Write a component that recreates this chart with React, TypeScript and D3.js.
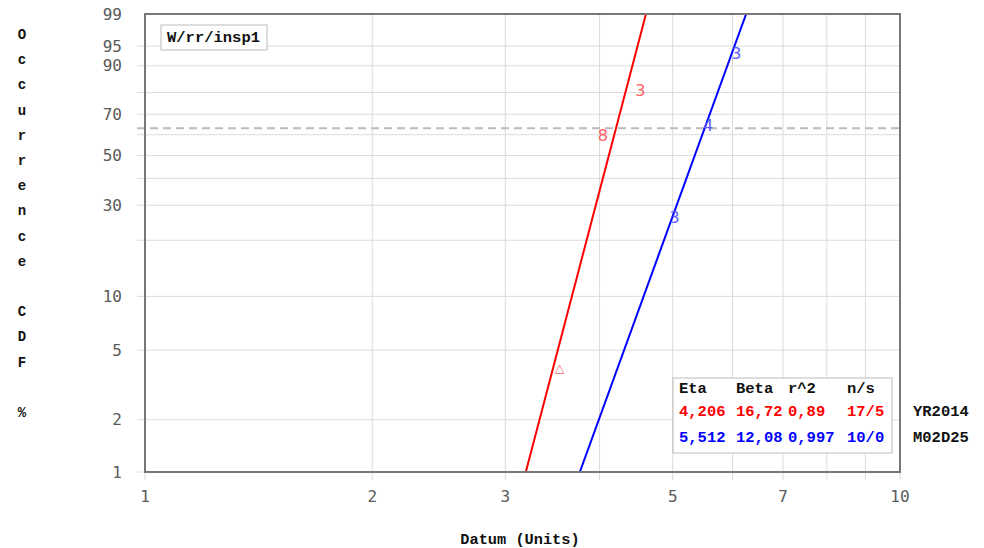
import React from "react";
import * as d3 from "d3";

// axis ticks
const xTicks = [1, 2, 3, 5, 7, 10];
const xGrid = [2, 3, 4, 5, 6, 7, 8, 9];
const yTicks = [1, 2, 5, 10, 30, 50, 70, 90, 95, 99];
const yGrid = [2, 5, 10, 20, 30, 40, 50, 60, 70, 80, 90, 95];

// fitted parameters per set
const seriesNames = ["YR2014", "M02D25"];
const seriesColors = ["#ff0000", "#0000ff"];
const markColors = ["#ff6060", "#6060ff"];
const etas = [4.206, 5.512];
const betas = [16.72, 12.08];
const r2Labels = ["0,89", "0,997"];
const nsLabels = ["17/5", "10/0"];
const etaLabels = ["4,206", "5,512"];
const betaLabels = ["16,72", "12,08"];

// plotted points (x value, occurrence %, glyph)
const redX = [3.54, 4.04, 4.53];
const redF = [3.96, 59.8, 81.0];
const redGlyph = ["△", "8", "3"];
const blueX = [5.03, 5.57, 6.07];
const blueF = [26.0, 64.3, 93.3];
const blueGlyph = ["3", "4", "3"];

const W = 984;
const H = 548;
const left = 145, right = 900, top = 14, bottom = 472;

const wb = (p: number) => Math.log(-Math.log(1 - p / 100));

export default function App() {
  const x = d3.scaleLog().domain([1, 10]).range([left, right]);
  const y = d3.scaleLinear().domain([wb(1), wb(99)]).range([bottom, top]);

  const fitLine = (eta: number, beta: number) => {
    const pts = [1, 99].map((p) => [x(eta * Math.pow(-Math.log(1 - p / 100), 1 / beta)), y(wb(p))] as [number, number]);
    return d3.line()(pts) || "";
  };

  const points = [
    redX.map((v, i) => ({ x: v, f: redF[i], g: redGlyph[i] })),
    blueX.map((v, i) => ({ x: v, f: blueF[i], g: blueGlyph[i] })),
  ];

  const mono = "'Liberation Mono', 'DejaVu Sans Mono', monospace";
  const tickFont = "'DejaVu Sans Mono', monospace";
  const yLabel = "Occurrence CDF %".split("");
  const cols = [679, 736, 788, 847];

  return (
    <svg width={W} height={H} style={{ position: "absolute", left: 0, top: 0, background: "#fff" }}>
      <defs>
        <clipPath id="plot">
          <rect x={left} y={top} width={right - left} height={bottom - top} />
        </clipPath>
      </defs>

      {/* grid */}
      {yGrid.map((p) => (
        <line key={"yg" + p} x1={left - 8} x2={right} y1={y(wb(p))} y2={y(wb(p))} stroke="#dcdcdc" strokeWidth={1} />
      ))}
      {xGrid.map((v) => (
        <line key={"xg" + v} x1={x(v)} x2={x(v)} y1={top} y2={bottom + 8} stroke="#dcdcdc" strokeWidth={1} />
      ))}
      {[1].map((p) => (
        <line key="y1" x1={left - 8} x2={left} y1={y(wb(p))} y2={y(wb(p))} stroke="#dcdcdc" />
      ))}
      {[1, 10].map((v) => (
        <line key={"xt" + v} x1={x(v)} x2={x(v)} y1={bottom} y2={bottom + 8} stroke="#dcdcdc" />
      ))}
      <line x1={left - 8} x2={right} y1={y(0)} y2={y(0)} stroke="#bbbbbb" strokeWidth={2} strokeDasharray="8,5" />

      {/* tick labels */}
      {yTicks.map((p) => (
        <text key={"yl" + p} x={122} y={y(wb(p))} textAnchor="end" dominantBaseline="central" fontFamily={tickFont} fontSize={16} fill="#5a5a5a">
          {p}
        </text>
      ))}
      {xTicks.map((v) => (
        <text key={"xl" + v} x={x(v)} y={496} textAnchor="middle" dominantBaseline="central" fontFamily={tickFont} fontSize={16} fill="#5a5a5a">
          {v}
        </text>
      ))}

      {/* fit lines */}
      <g clipPath="url(#plot)">
        {etas.map((e, i) => (
          <path key={"fl" + i} d={fitLine(e, betas[i])} stroke={seriesColors[i]} strokeWidth={2} fill="none" />
        ))}
      </g>

      {/* point glyphs */}
      {points.map((ps, si) =>
        ps.map((p, i) => (
          <text key={si + "-" + i} x={x(p.x)} y={y(wb(p.f))} textAnchor="middle" dominantBaseline="central" fontFamily="'DejaVu Sans', sans-serif" fontSize={p.g === "△" ? 12 : 16} fill={markColors[si]}>
            {p.g}
          </text>
        ))
      )}

      {/* frame */}
      <rect x={left} y={top} width={right - left} height={bottom - top} fill="none" stroke="#777" strokeWidth={2} />

      {/* title box */}
      <rect x={161} y={25} width={106} height={25} fill="#fff" stroke="#bbb" />
      <text x={167} y={38} dominantBaseline="central" fontFamily={mono} fontWeight="bold" fontSize={15.5} fill="#111">
        W/rr/insp1
      </text>

      {/* parameter box */}
      <rect x={673} y={378} width={219} height={75} fill="#fff" stroke="#bbb" />
      {["Eta", "Beta", "r^2", "n/s"].map((h, i) => (
        <text key={"h" + h} x={cols[i]} y={389} dominantBaseline="central" fontFamily={mono} fontWeight="bold" fontSize={15.5} fill="#111">
          {h}
        </text>
      ))}
      {seriesNames.map((n, i) => {
        const ry = 412 + i * 26;
        const vals = [etaLabels[i], betaLabels[i], r2Labels[i], nsLabels[i]];
        return (
          <g key={"row" + n}>
            {vals.map((v, j) => (
              <text key={j} x={cols[j]} y={ry} dominantBaseline="central" fontFamily={mono} fontWeight="bold" fontSize={15.5} fill={seriesColors[i]}>
                {v}
              </text>
            ))}
            <text x={913} y={ry} dominantBaseline="central" fontFamily={mono} fontWeight="bold" fontSize={15.5} fill="#111">
              {n}
            </text>
          </g>
        );
      })}

      {/* axis titles */}
      {yLabel.map((c, i) => (
        <text key={"yc" + i} x={22} y={35 + i * 25.2} textAnchor="middle" dominantBaseline="central" fontFamily={mono} fontWeight="bold" fontSize={14} fill="#111">
          {c}
        </text>
      ))}
      <text x={520} y={540} textAnchor="middle" dominantBaseline="central" fontFamily={mono} fontWeight="bold" fontSize={15.3} fill="#111">
        Datum (Units)
      </text>
    </svg>
  );
}
